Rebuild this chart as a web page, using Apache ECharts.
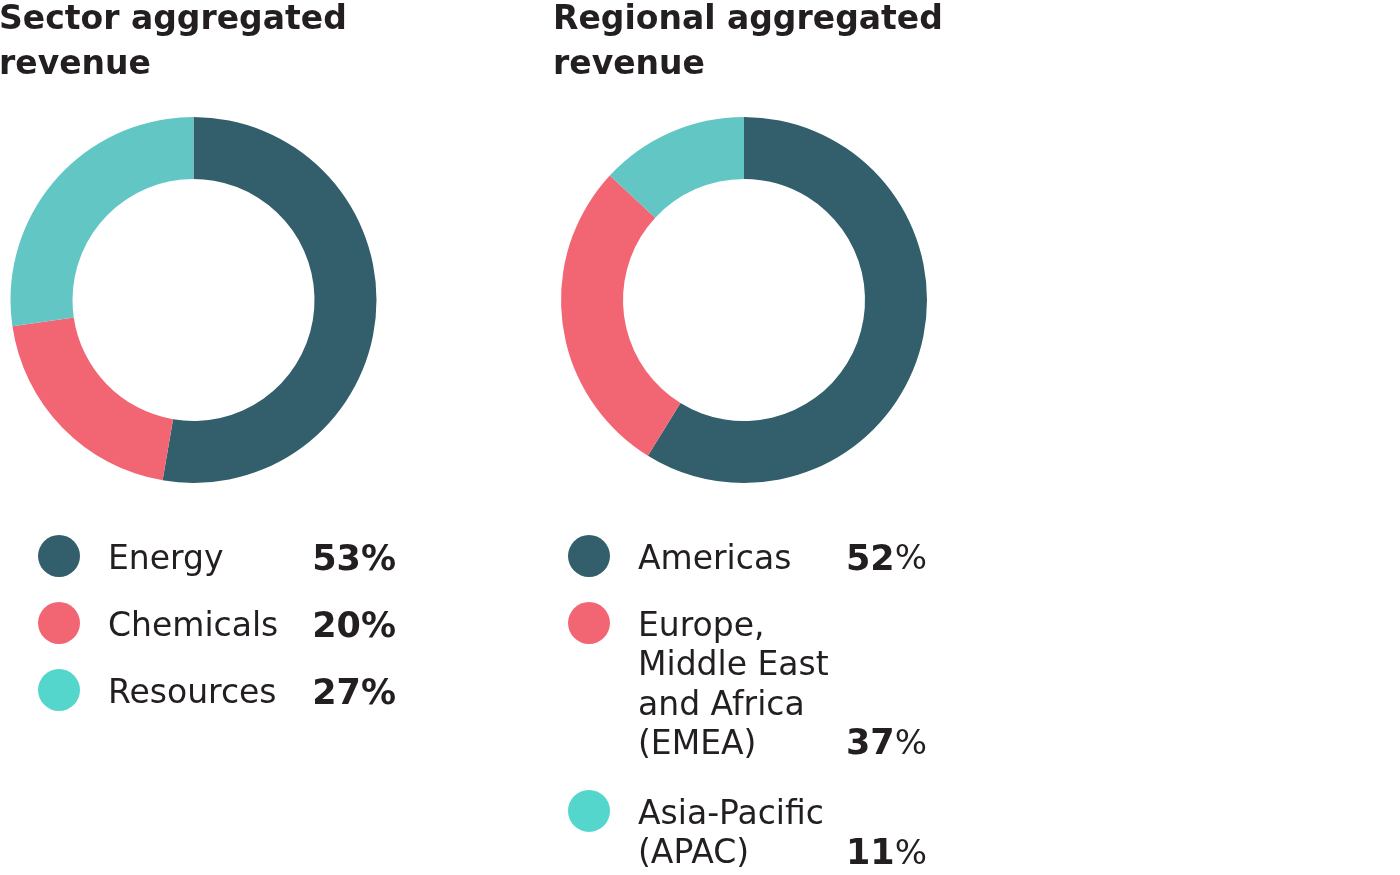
<!DOCTYPE html>
<html>
<head>
<meta charset="utf-8">
<title>Aggregated revenue</title>
<script src="https://cdn.jsdelivr.net/npm/echarts@6/dist/echarts.min.js"></script>
<style>
  html, body { margin: 0; padding: 0; background: #fff; }
  #chart { width: 1400px; height: 875px; }
</style>
</head>
<body>
<div id="chart"></div>
<script>
// slice sizes as drawn in the donuts, printed shares as in the legends
var sectorNames = ['Energy', 'Chemicals', 'Resources'];
var sectorSlices = [52.7, 20.0, 27.3];
var sectorShares = ['53', '20', '27'];

var regionNames = ['Americas', 'Europe,\nMiddle East\nand Africa\n(EMEA)', 'Asia-Pacific\n(APAC)'];
var regionSlices = [58.8, 28.1, 13.1];
var regionShares = ['52', '37', '11'];

var sliceColors = ['#335e6b', '#f26674', '#62c6c4'];
var dotColors = ['#335e6b', '#f26674', '#55d6cc'];

var FONT = 'DejaVu Sans, Verdana, sans-serif';
var INK = '#231f20';

function pieData(names, values) {
  var out = [];
  for (var i = 0; i < names.length; i++) {
    out.push({ name: names[i], value: values[i], itemStyle: { color: sliceColors[i] } });
  }
  return out;
}

// legend block: dot, name lines, share on the name's last line
function legendBlock(names, shares, x0, pctRight, boldPct) {
  var els = [];
  var y = 557;
  var lh = 39.3;
  for (var i = 0; i < names.length; i++) {
    var lines = names[i].split('\n');
    els.push({
      type: 'circle',
      shape: { cx: x0, cy: y - 1, r: 21 },
      style: { fill: dotColors[i] }
    });
    for (var j = 0; j < lines.length; j++) {
      els.push({
        type: 'text',
        style: {
          text: lines[j], x: x0 + 49, y: y + 3.5 + j * lh,
          fill: INK, fontSize: 33, fontFamily: FONT,
          textAlign: 'left', textVerticalAlign: 'middle'
        }
      });
    }
    els.push({
      type: 'text',
      style: {
        text: boldPct ? '{b|' + shares[i] + '%}' : '{b|' + shares[i] + '}{r|%}',
        x: pctRight, y: y + 3.5 + (lines.length - 1) * lh,
        textAlign: 'right', textVerticalAlign: 'middle',
        rich: {
          b: { fontSize: 35, fontWeight: 'bold', fontFamily: FONT, fill: INK, color: INK },
          r: { fontSize: 34, fontFamily: FONT, fill: INK, color: INK }
        }
      }
    });
    y += (lines.length - 1) * (lh + 1) + 67;
  }
  return els;
}

var chart = echarts.init(document.getElementById('chart'));
var titleStyle = { color: INK, fontSize: 33, fontWeight: 'bold', fontFamily: FONT, lineHeight: 45 };

chart.setOption({
  animation: false,
  title: [
    { text: 'Sector aggregated\nrevenue', left: -1, top: -2, padding: 0, textStyle: titleStyle },
    { text: 'Regional aggregated\nrevenue', left: 553, top: -2, padding: 0, textStyle: titleStyle }
  ],
  series: [
    {
      type: 'pie', center: [193.5, 300], radius: [121, 183], startAngle: 90,
      label: { show: false }, labelLine: { show: false }, silent: true,
      data: pieData(sectorNames, sectorSlices)
    },
    {
      type: 'pie', center: [744, 300], radius: [121, 183], startAngle: 90,
      label: { show: false }, labelLine: { show: false }, silent: true,
      data: pieData(regionNames, regionSlices)
    }
  ],
  graphic: legendBlock(sectorNames, sectorShares, 59, 396, true)
    .concat(legendBlock(regionNames, regionShares, 589, 927, false))
});
</script>
</body>
</html>
